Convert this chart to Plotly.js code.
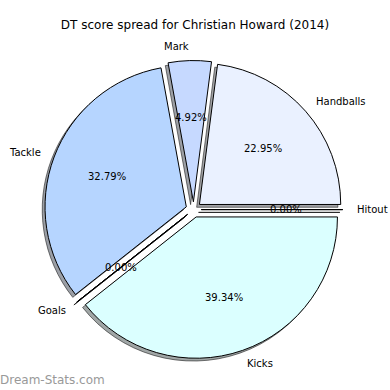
<!DOCTYPE html>
<html>
<head>
<meta charset="utf-8">
<script src="https://cdn.plot.ly/plotly-3.0.1.min.js"></script>
<style>html,body{margin:0;padding:0;background:#fff;}#chart{width:390px;height:390px;}</style>
</head>
<body>
<div id="chart"></div>
<script>
// Data (counter-clockwise order starting at 3 o'clock)
const categories = ['Hitout', 'Handballs', 'Mark', 'Tackle', 'Goals', 'Kicks'];
const values = [0, 14, 3, 20, 0, 24];
const sliceColors = ['#e0e8ff', '#eaf1ff', '#c6d9ff', '#b6d5ff', '#d0e4ff', '#dbffff'];
const titleText = 'DT score spread for Christian Howard (2014)';
const watermark = 'Dream-Stats.com';

// Layout constants
const W = 390, H = 390;
const CX = 193.6, CY = 209.6, R = 141.3, PULL = 0.055, SH = 2.8;
const FONT = 'DejaVu Sans';

const total = values.reduce((a, b) => a + b, 0);

function hexToRgb(h) {
  const n = parseInt(h.slice(1), 16);
  return [(n >> 16) & 255, (n >> 8) & 255, n & 255];
}
const shadowColors = sliceColors.map(c => {
  const [r, g, b] = hexToRgb(c);
  return `rgba(${Math.round(r*0.3)},${Math.round(g*0.3)},${Math.round(b*0.3)},0.5)`;
});

function domainFor(cx, cy) {
  const half = R * (1 + PULL);
  return {
    x: [(cx - half) / W, (cx + half) / W],
    y: [1 - (cy + half) / H, 1 - (cy - half) / H]
  };
}

// Plotly draws clockwise from 3 o'clock, so reverse order
const rev = a => a.slice().reverse();

const common = {
  type: 'pie',
  sort: false,
  direction: 'clockwise',
  rotation: 90,
  textinfo: 'none',
  hoverinfo: 'skip',
  showlegend: false,
  labels: rev(categories),
  values: rev(values),
  pull: rev(values).map(() => PULL)
};

const shadowTrace = Object.assign({}, common, {
  domain: domainFor(CX - SH, CY + SH),
  marker: { colors: rev(shadowColors), line: { color: 'rgba(0,0,0,0.5)', width: 1 } }
});
const mainTrace = Object.assign({}, common, {
  domain: domainFor(CX, CY),
  marker: { colors: rev(sliceColors), line: { color: '#000', width: 1 } }
});

const annotations = [];
const shapes = [];
let start = 0;
categories.forEach((c, i) => {
  const frac = values[i] / total;
  const th1 = start, th2 = start + frac * 360;
  start = th2;
  const mid = (th1 + th2) / 2 * Math.PI / 180;
  const cs = Math.cos(mid), sn = Math.sin(mid);
  const ex = CX + PULL * R * cs, ey = CY - PULL * R * sn;
  const lx = ex + 1.1 * R * cs, ly = ey - 1.1 * R * sn;
  const px = ex + 0.6 * R * cs, py = ey - 0.6 * R * sn;
  const xt = PULL * cs + 1.1 * cs;
  annotations.push({
    xref: 'paper', yref: 'paper', x: lx / W, y: 1 - ly / H,
    text: c, showarrow: false, xanchor: xt > 0 ? 'left' : 'right', yanchor: 'middle',
    borderpad: 0, borderwidth: 0, font: { family: FONT, size: 10, color: '#000' }
  });
  annotations.push({
    xref: 'paper', yref: 'paper', x: px / W, y: 1 - py / H,
    text: (frac * 100).toFixed(2) + '%', showarrow: false, xanchor: 'center', yanchor: 'middle',
    borderpad: 0, borderwidth: 0, font: { family: FONT, size: 10, color: '#000' }
  });
  if (values[i] === 0) {
    const x1 = ex + R * cs, y1 = ey - R * sn;
    shapes.push({
      type: 'line', xref: 'paper', yref: 'paper', layer: 'below',
      x0: (ex - SH) / W, y0: 1 - (ey + SH) / H, x1: (x1 - SH) / W, y1: 1 - (y1 + SH) / H,
      line: { color: 'rgba(0,0,0,0.5)', width: 1 }
    });
    shapes.push({
      type: 'line', xref: 'paper', yref: 'paper', layer: 'above',
      x0: ex / W, y0: 1 - ey / H, x1: x1 / W, y1: 1 - y1 / H,
      line: { color: '#000', width: 1 }
    });
  }
});

annotations.push({
  xref: 'paper', yref: 'paper', x: 0, y: 1 - 380 / H,
  text: watermark, showarrow: false, xanchor: 'left', yanchor: 'middle',
  borderpad: 0, borderwidth: 0, font: { family: FONT, size: 12, color: '#999999' }
});

const layout = {
  width: W, height: H,
  margin: { l: 0, r: 0, t: 0, b: 0 },
  paper_bgcolor: '#fff',
  title: {
    text: titleText, x: 0.5, xanchor: 'center', y: 1 - 25 / H, yanchor: 'middle',
    font: { family: FONT, size: 12, color: '#000' }
  },
  annotations: annotations,
  shapes: shapes
};

Plotly.newPlot('chart', [shadowTrace, mainTrace], layout, { staticPlot: true, displayModeBar: false });
</script>
</body>
</html>
